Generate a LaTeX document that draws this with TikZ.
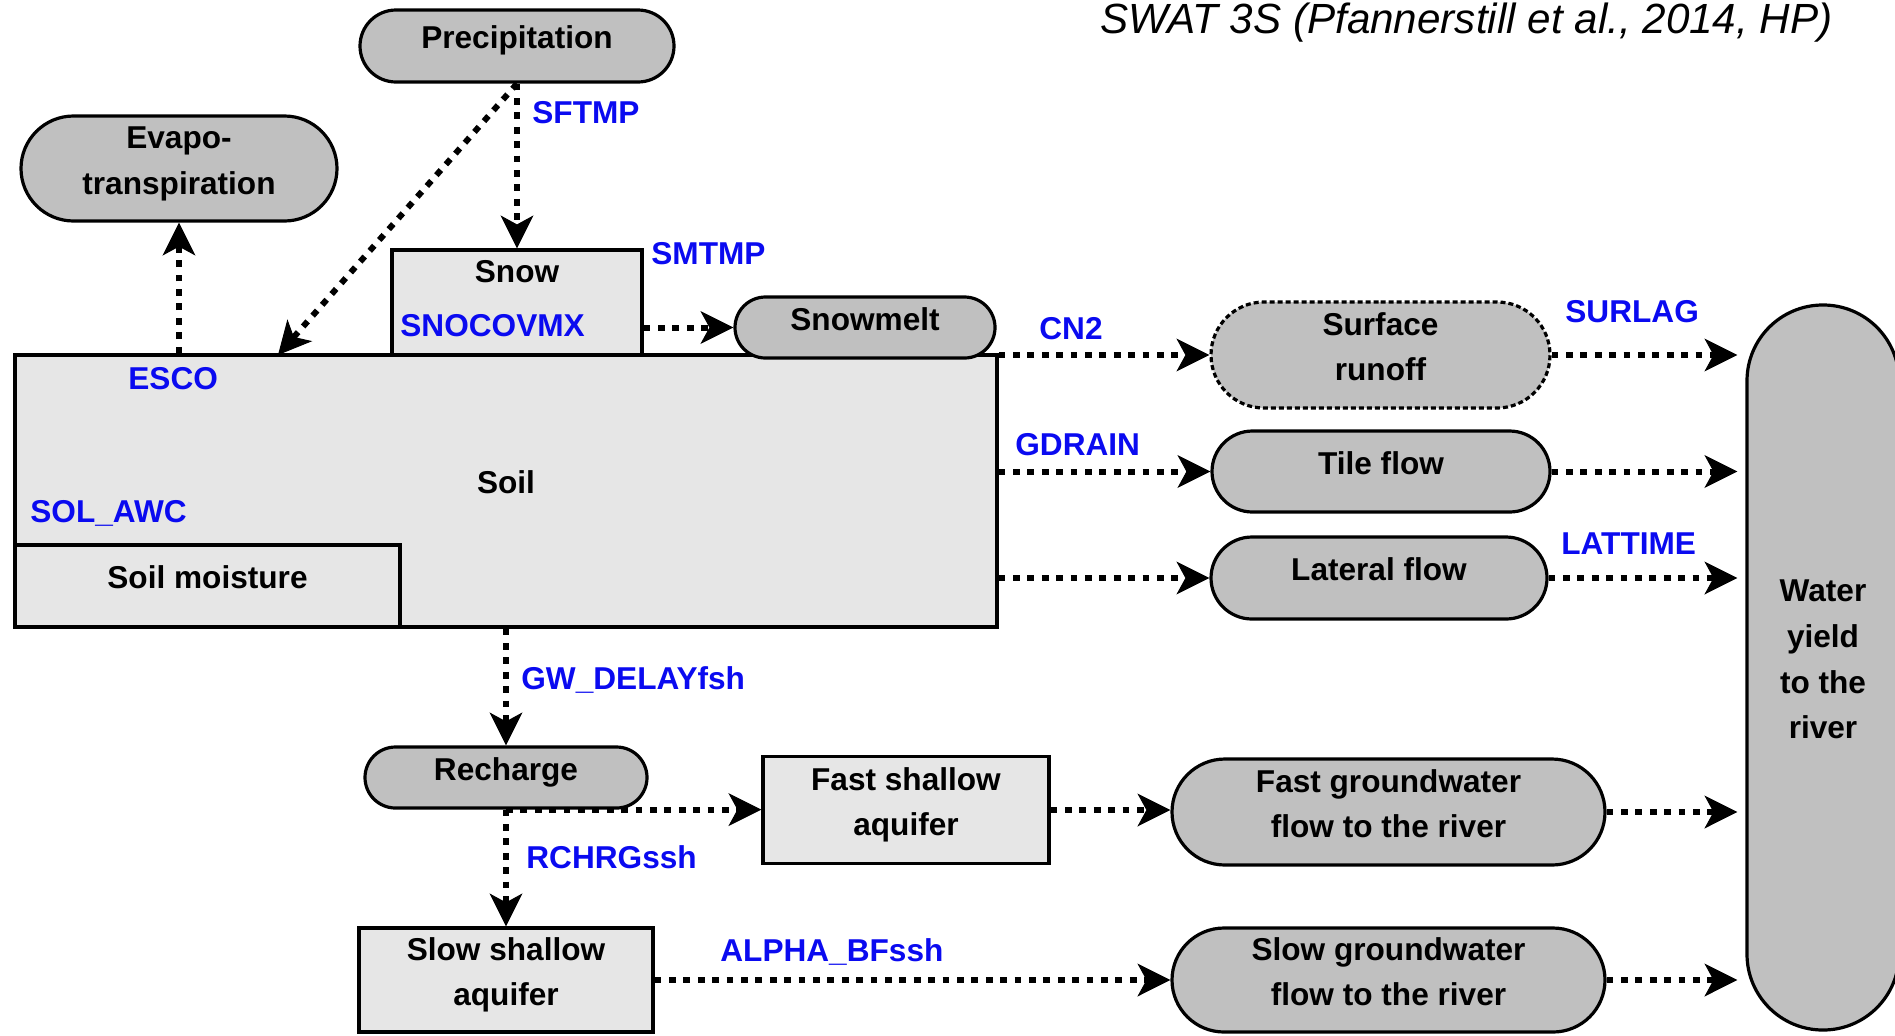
\documentclass[tikz,border=0pt]{standalone}
\usepackage{fontspec}
\setmainfont{Liberation Sans}
\usetikzlibrary{arrows.meta,shapes.misc}

\definecolor{fluxgray}{RGB}{192,192,192}
\definecolor{storegray}{RGB}{230,230,230}
\definecolor{parblue}{RGB}{10,10,240}

\begin{document}
\begin{tikzpicture}[x=0.5pt, y=-0.5pt, font=\fontsize{15.8pt}{22.8pt}\selectfont\bfseries,
    box/.style = {draw, line width=1.6pt, align=center, inner sep=0pt, text height=11.5pt, text depth=8.7pt},
    flux/.style = {box, rounded rectangle, fill=fluxgray},
    store/.style = {box, rectangle, fill=storegray},
    twolines/.style = {text height=34.3pt},
    param/.style = {text=parblue, inner sep=0pt, anchor=base west},
    flow/.style = {line width=3pt, dash pattern=on 3.4pt off 3.8pt, -{Stealth[length=16.5pt, width=16.5pt, inset=4.5pt, line width=0.5pt]}}]

    \useasboundingbox (0,0) rectangle (1895,1035);

    % title
    \node[anchor=base east, inner sep=0pt, font=\fontsize{21.1pt}{25pt}\selectfont\itshape] (title) at (1833,33) {SWAT 3S (Pfannerstill et al., 2014, HP)};

    % storages and fluxes
    \node[flux, minimum width=157pt, minimum height=36pt] (prec) at (517,46) {Precipitation};
    \node[flux, twolines, minimum width=158pt, minimum height=52.5pt] (evap) at (179,168.5) {Evapo-\\transpiration};
    \node[store, minimum width=491pt, minimum height=136pt] (soil) at (506,491) {Soil};
    \node[store, minimum width=192.5pt, minimum height=41pt] (moist) at (207.5,586) {Soil moisture};
    \node[store, minimum width=125pt, minimum height=52.5pt] (snow) at (517,302.5) {};
    \node (snowname) at (517,272) {Snow};
    \node[flux, minimum width=130pt, minimum height=30.5pt] (melt) at (865,327.5) {Snowmelt};
    \node[flux, twolines, dash pattern=on 2.5pt off 1.5pt, minimum width=169.5pt, minimum height=53pt] (surf) at (1380.5,355) {Surface\\runoff};
    \node[flux, minimum width=169pt, minimum height=40.5pt] (tile) at (1381,471.5) {Tile flow};
    \node[flux, minimum width=168pt, minimum height=41pt] (lat) at (1379,578) {Lateral flow};
    \node[box, fill=fluxgray, rounded corners=37.9pt, text height=79.9pt, minimum width=76pt, minimum height=362.5pt] (wy) at (1823,667.5) {Water\\yield\\to the\\river};
    \node[flux, minimum width=141pt, minimum height=30.5pt] (rech) at (506,777.5) {Recharge};
    \node[store, twolines, minimum width=143pt, minimum height=53.5pt] (fshal) at (906,810) {Fast shallow\\aquifer};
    \node[flux, twolines, minimum width=216.5pt, minimum height=53pt] (fgw) at (1388.5,812) {Fast groundwater\\flow to the river};
    \node[store, twolines, minimum width=147pt, minimum height=52pt] (sshal) at (506,980) {Slow shallow\\aquifer};
    \node[flux, twolines, minimum width=216.5pt, minimum height=52pt] (sgw) at (1388.5,980) {Slow groundwater\\flow to the river};

    % parameters
    \node[param] (sftmp) at (532,123) {SFTMP};
    \node[param] (smtmp) at (651,264) {SMTMP};
    \node[param] (snocovmx) at (400,336) {SNOCOVMX};
    \node[param] (esco) at (128,389) {ESCO};
    \node[param] (solawc) at (30,522) {SOL\_AWC};
    \node[param] (cn2) at (1039,339) {CN2};
    \node[param] (surlag) at (1565,322) {SURLAG};
    \node[param] (gdrain) at (1015,455) {GDRAIN};
    \node[param] (lattime) at (1561,554) {LATTIME};
    \node[param] (gwdelay) at (521,689) {GW\_DELAYfsh};
    \node[param] (rchrg) at (526,868) {RCHRGssh};
    \node[param] (alphabf) at (720,961) {ALPHA\_BFssh};

    % flows
    \coordinate (rain) at (278,355);
    \draw[flow] (prec.south) -- (snow.north);
    \draw[flow] (prec.south) -- (rain);
    \draw[flow] (evap.south |- soil.north) -- (evap.south);
    \draw[flow] (snow.east |- melt.west) -- (melt.west);
    \foreach \f in {surf, tile, lat} {
        \draw[flow] (soil.east |- \f.west) -- (\f.west);
        \draw[flow, shorten >=4pt] (\f.east) -- (wy.west |- \f.east);
    }
    \draw[flow] (rech.north |- soil.south) -- (rech.north);
    \draw[flow] (rech.south) -- (sshal.north);
    \draw[flow] (rech.south) -- (rech.south -| fshal.west);
    \draw[flow] (fshal.east) -- (fshal.east -| fgw.west);
    \draw[flow] (sshal.east) -- (sgw.west);
    \foreach \f in {fgw, sgw}
        \draw[flow, shorten >=4pt] (\f.east) -- (wy.west |- \f.east);

\end{tikzpicture}
\end{document}
